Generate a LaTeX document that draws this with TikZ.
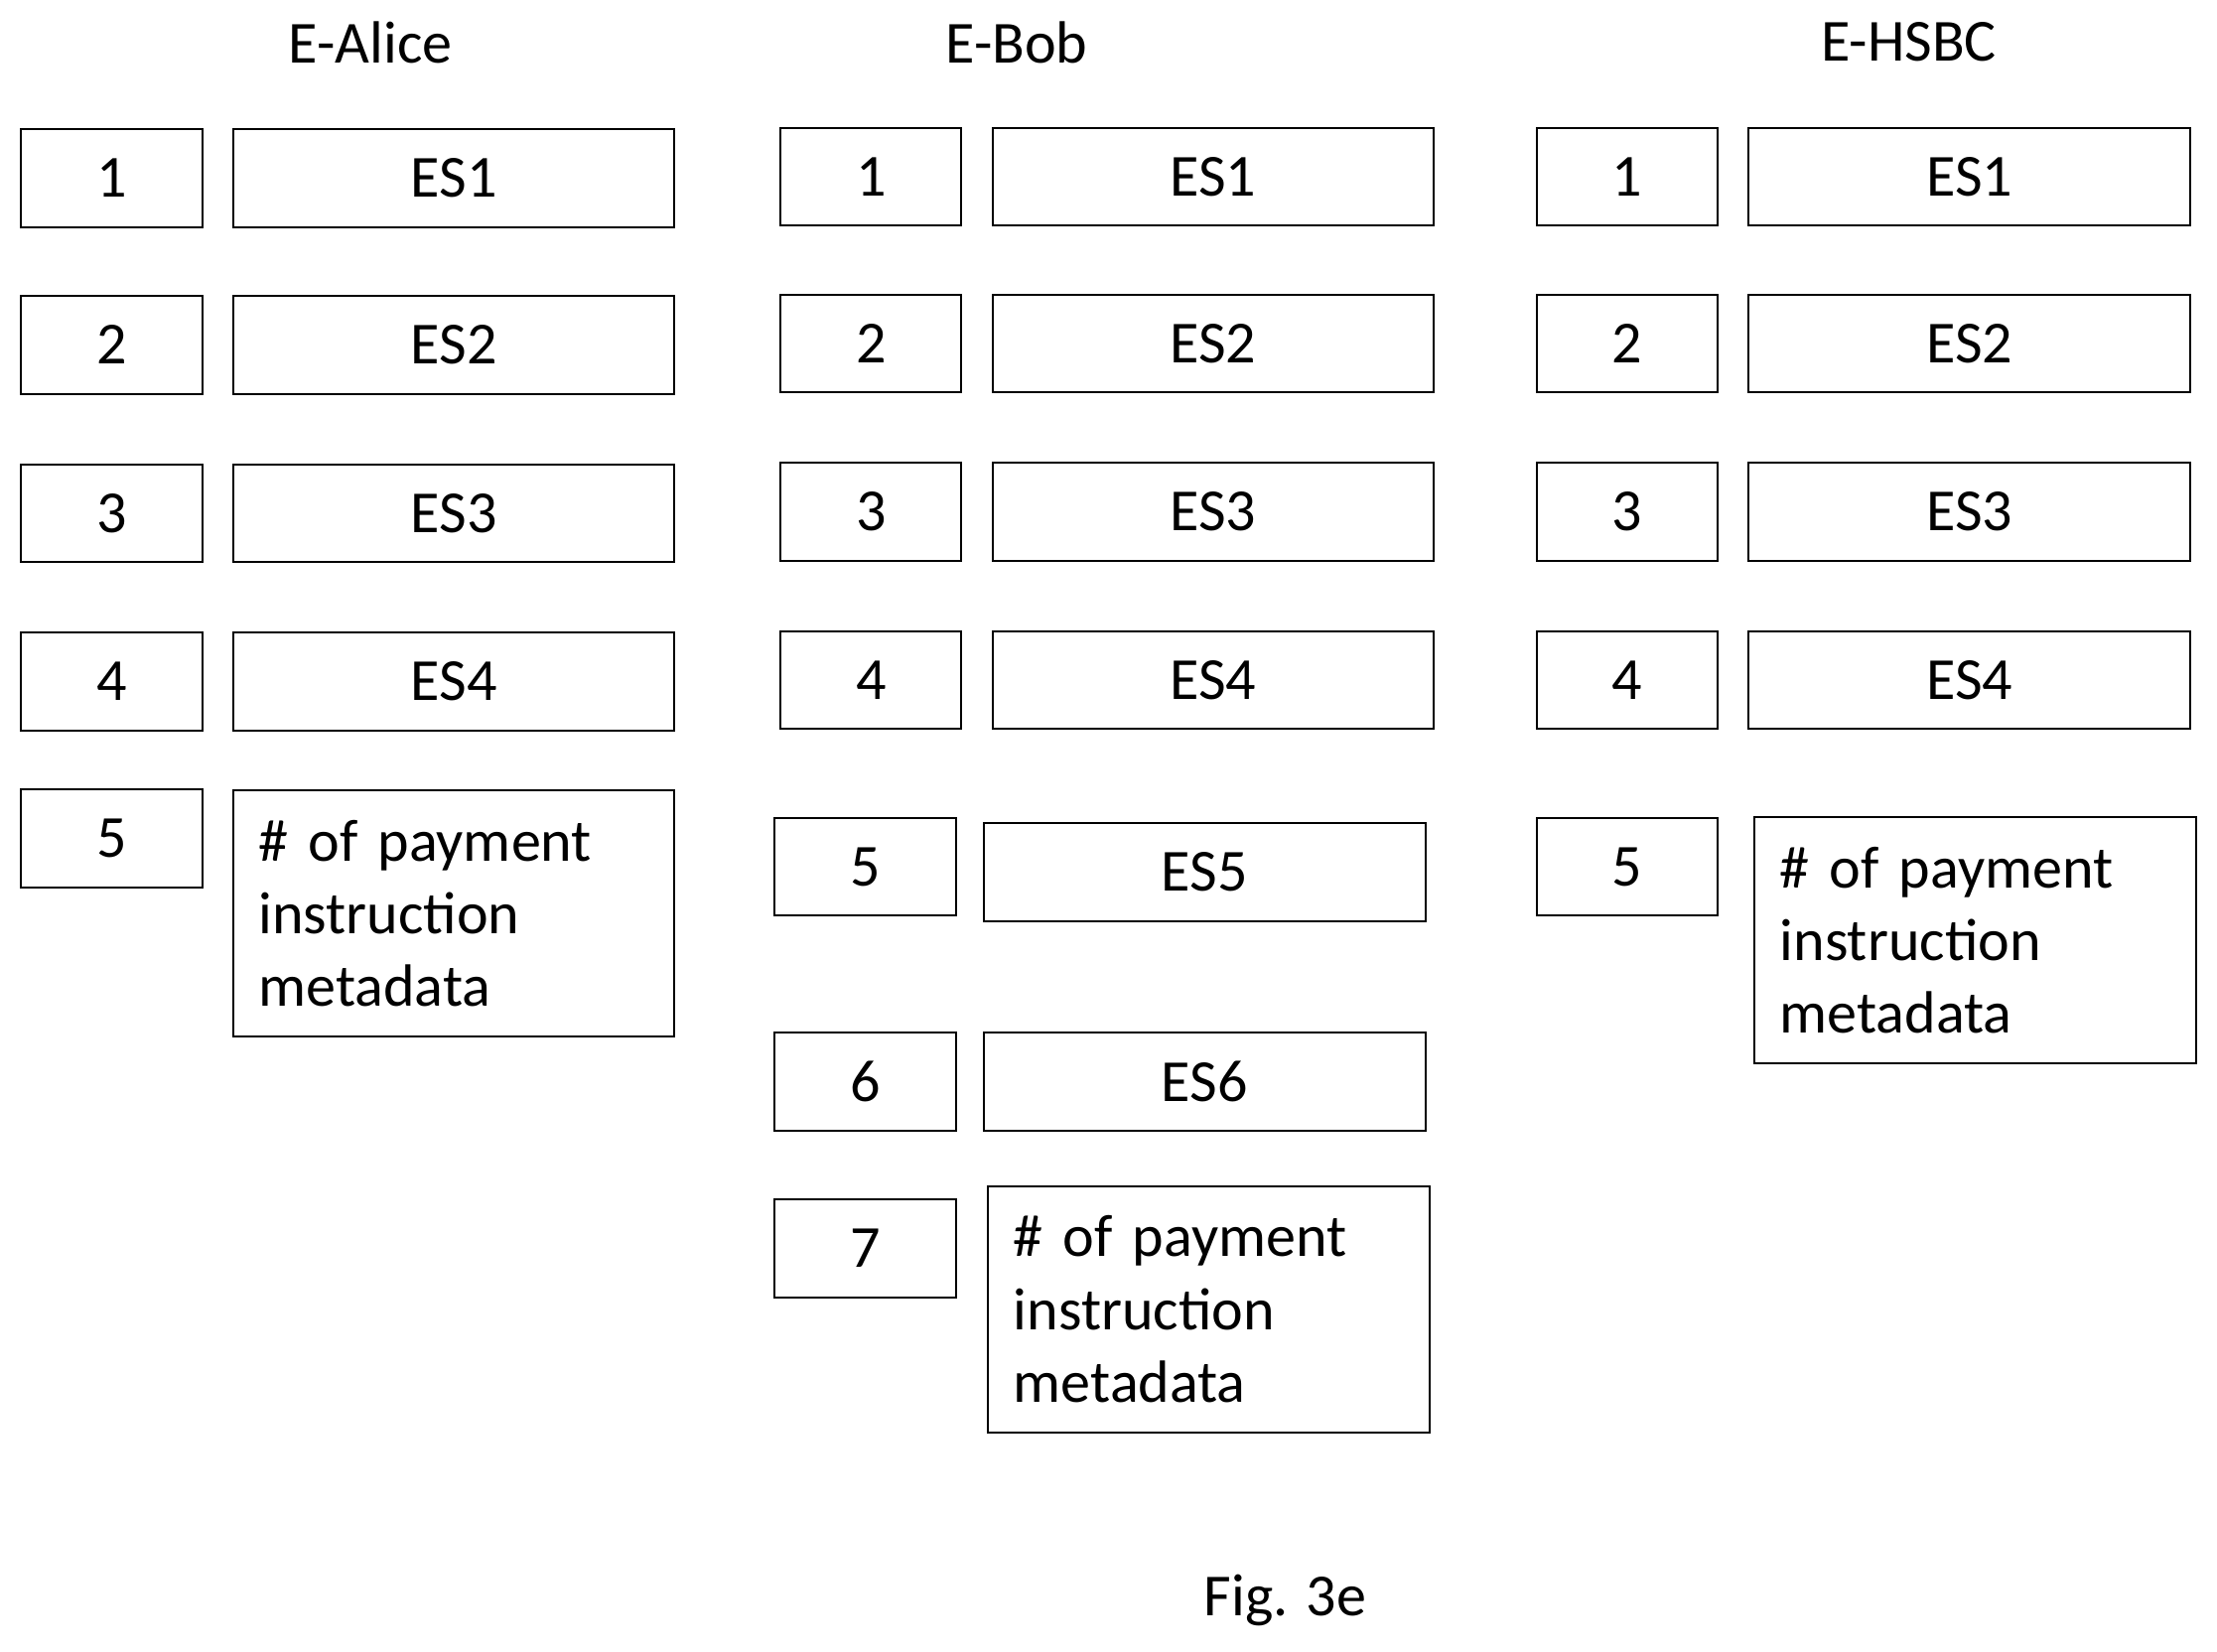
\documentclass[tikz,border=0pt]{standalone}
\usepackage{fontspec}
\setmainfont{Carlito}
\begin{document}
\begin{tikzpicture}[x=0.01cm, y=-0.01cm, thin,
  idx/.style = {draw, minimum width=1.28cm, minimum height=0.69cm, inner sep=0pt, font=\fontsize{12}{15}\selectfont},
  es/.style = {draw, minimum width=3.12cm, minimum height=0.69cm, inner sep=0pt, font=\fontsize{12}{15}\selectfont},
  meta/.style = {draw, minimum width=3.12cm, minimum height=1.74cm, inner sep=0pt, text width=2.76cm, align=left, font=\fontsize{12}{14.6}\selectfont},
  ttl/.style = {font=\fontsize{12}{15}\selectfont}]
\useasboundingbox (0,0) rectangle (1568,1168);
% titles
\node[ttl] (tA) at (262,30) {E-Alice};
\node[ttl] (tB) at (719,30) {E-Bob};
\node[ttl] (tH) at (1350,30) {E-HSBC};
% rows 1-4
\foreach \i/\y in {1/125, 2/243, 3/362, 4/481} {
  \node[idx] (a\i) at (79,\y+1) {\i};
  \node[es] (aes\i) at (321,\y+1) {ES\i};
  \node[idx] (b\i) at (616,\y) {\i};
  \node[es] (bes\i) at (858,\y) {ES\i};
  \node[idx] (h\i) at (1151,\y) {\i};
  \node[es] (hes\i) at (1393,\y) {ES\i};
}
% E-Alice
\node[idx] (a5) at (79,593) {5};
\node[meta] (ameta) at (321,646) {\# of payment instruction metadata};
% E-Bob
\node[idx] (b5) at (612,613) {5};
\node[es] (bes5) at (852,617) {ES5};
\node[idx] (b6) at (612,765) {6};
\node[es] (bes6) at (852,765) {ES6};
\node[idx] (b7) at (612,883) {7};
\node[meta] (bmeta) at (855,926) {\# of payment instruction metadata};
% E-HSBC
\node[idx] (h5) at (1151,613) {5};
\node[meta] (hmeta) at (1397,665) {\# of payment instruction metadata};
% caption
\node[ttl] (fig) at (909,1132) {Fig. 3e};
\end{tikzpicture}
\end{document}
